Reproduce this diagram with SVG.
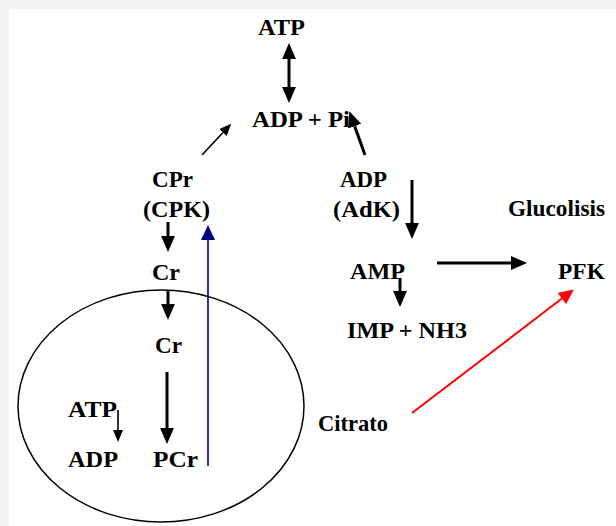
<svg xmlns="http://www.w3.org/2000/svg" width="616" height="526" viewBox="0 0 616 526">
<style>
text{font-family:"Liberation Serif","Times New Roman",serif;font-weight:bold;font-size:23px;fill:#000}
.k{stroke:#000;stroke-width:3;fill:none}
.t{stroke:#000;stroke-width:1.6;fill:none}
</style>
<defs>
<marker id="ah" markerUnits="userSpaceOnUse" markerWidth="16" markerHeight="14" refX="0" refY="6.5" orient="auto-start-reverse" viewBox="0 0 15 13"><path d="M0,0 L15,6.5 L0,13 z" fill="#000"/></marker>
<marker id="as" markerUnits="userSpaceOnUse" markerWidth="12" markerHeight="10" refX="0" refY="5" orient="auto" viewBox="0 0 12 10"><path d="M0,0 L12,5 L0,10 z" fill="#000"/></marker>
<marker id="ab" markerUnits="userSpaceOnUse" markerWidth="16" markerHeight="14" refX="0" refY="7" orient="auto" viewBox="0 0 15 14"><path d="M0,0 L15,7 L0,14 z" fill="#000080"/></marker>
<marker id="ar" markerUnits="userSpaceOnUse" markerWidth="16" markerHeight="14" refX="0" refY="7" orient="auto" viewBox="0 0 15 14"><path d="M0,0 L15,7 L0,14 z" fill="#ff0000"/></marker>
</defs>
<rect width="616" height="526" fill="#fff"/>
<rect width="616" height="9" fill="#f3f3f3"/>
<rect width="9" height="526" fill="#f3f3f3"/>
<g id="cell"><ellipse cx="161" cy="406" rx="143" ry="116" fill="none" stroke="#000" stroke-width="1.5"/></g>
<g id="connectors">
<line class="k" x1="289" y1="59" x2="289" y2="87" marker-start="url(#ah)" marker-end="url(#ah)"/>
<line class="t" x1="202" y1="155" x2="223" y2="132.5" marker-end="url(#as)"/>
<line class="k" x1="365" y1="155" x2="354.7" y2="126.2" marker-end="url(#ah)"/>
<line class="k" x1="168" y1="222" x2="168" y2="236" marker-end="url(#ah)"/>
<line class="k" x1="168" y1="290" x2="168" y2="304" marker-end="url(#ah)"/>
<line class="k" x1="167" y1="372" x2="167" y2="428" marker-end="url(#ah)"/>
<line class="t" x1="118" y1="410" x2="118" y2="430" marker-end="url(#as)"/>
<line stroke="#000080" stroke-width="1.6" x1="208" y1="466" x2="208" y2="240" marker-end="url(#ab)"/>
<line class="k" x1="412" y1="180" x2="412" y2="223" marker-end="url(#ah)"/>
<line class="k" x1="400" y1="278" x2="400" y2="291" marker-end="url(#ah)"/>
<line class="k" x1="437" y1="263" x2="511" y2="263" marker-end="url(#ah)"/>
<line stroke="#ff0000" stroke-width="2" x1="412" y1="413" x2="561.9" y2="298.5" marker-end="url(#ar)"/>
</g>
<g id="atp-top"><text x="258" y="35" textLength="47" lengthAdjust="spacingAndGlyphs">ATP</text></g>
<g id="adp-pi"><text x="252" y="127" textLength="98" lengthAdjust="spacingAndGlyphs">ADP + Pi</text></g>
<g id="cpr"><text x="152" y="187" textLength="41" lengthAdjust="spacingAndGlyphs">CPr</text><text x="143" y="217" textLength="67" lengthAdjust="spacingAndGlyphs">(CPK)</text></g>
<g id="cr1"><text x="152" y="280" textLength="28" lengthAdjust="spacingAndGlyphs">Cr</text></g>
<g id="cr2"><text x="155" y="353" textLength="27" lengthAdjust="spacingAndGlyphs">Cr</text></g>
<g id="atp-in"><text x="68" y="417" textLength="49" lengthAdjust="spacingAndGlyphs">ATP</text></g>
<g id="adp-in"><text x="68" y="467" textLength="50" lengthAdjust="spacingAndGlyphs">ADP</text></g>
<g id="pcr"><text x="153" y="467" textLength="45" lengthAdjust="spacingAndGlyphs">PCr</text></g>
<g id="adp-adk"><text x="340" y="187" textLength="47" lengthAdjust="spacingAndGlyphs">ADP</text><text x="333" y="217" textLength="67" lengthAdjust="spacingAndGlyphs">(AdK)</text></g>
<g id="amp"><text x="350" y="279" textLength="55" lengthAdjust="spacingAndGlyphs">AMP</text></g>
<g id="imp"><text x="347" y="338" textLength="120" lengthAdjust="spacingAndGlyphs">IMP + NH3</text></g>
<g id="glucolisis"><text x="508" y="216" textLength="97" lengthAdjust="spacingAndGlyphs">Glucolisis</text></g>
<g id="pfk"><text x="558" y="279" textLength="47" lengthAdjust="spacingAndGlyphs">PFK</text></g>
<g id="citrato"><text x="318" y="431" textLength="70" lengthAdjust="spacingAndGlyphs">Citrato</text></g>
</svg>
